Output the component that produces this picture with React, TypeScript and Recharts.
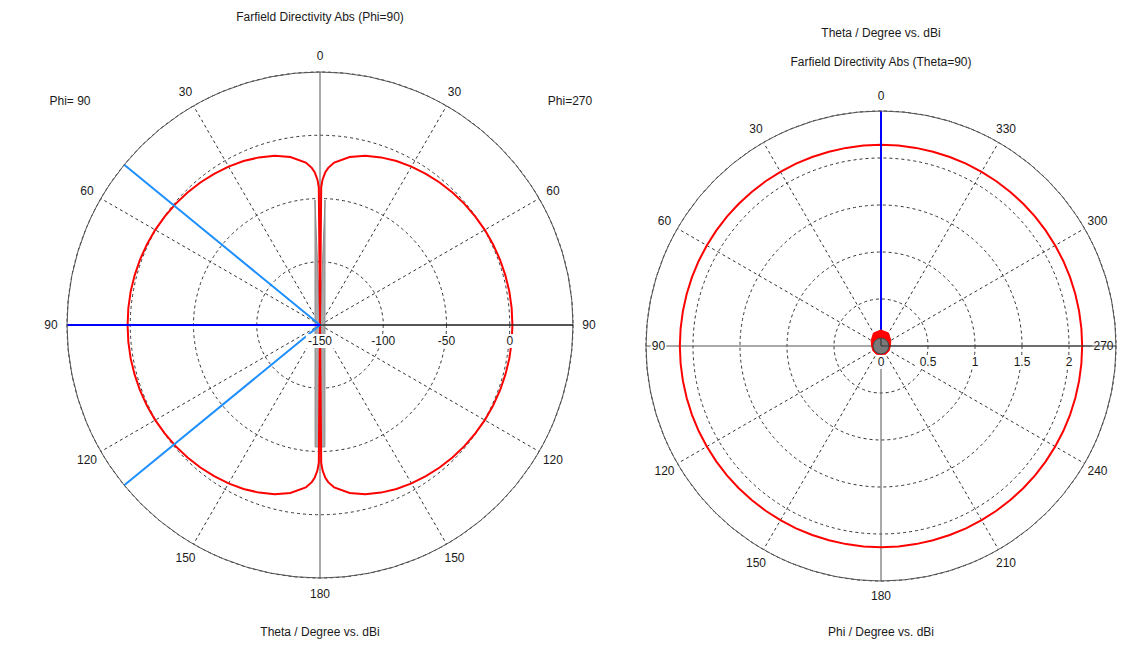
import React from "react";
import { RadarChart, Radar, PolarGrid, PolarAngleAxis, PolarRadiusAxis } from "recharts";

// ---- Farfield Directivity Abs (Phi=90), theta cut, dBi ----
const thetaDeg = [
  0, 0.5, 1, 2, 3, 5, 10, 15, 20, 25, 30, 35, 40, 45, 50, 55, 60, 65, 70, 75, 80, 85, 90,
  95, 100, 105, 110, 115, 120, 125, 130, 135, 140, 145, 150, 155, 160, 165, 170, 175, 177, 178, 179, 179.5, 180,
];
// right half of the plot (Phi=270)
const dbiPhi270 = [
  -150, -41.1, -35.1, -29.1, -25.6, -21.1, -15.1, -11.5, -9.0, -7.0, -5.4, -4.1, -2.9, -1.9, -1.0, -0.3, 0.4, 0.9, 1.4, 1.7, 2.0, 2.1, 2.1,
  2.1, 2.0, 1.7, 1.4, 0.9, 0.4, -0.3, -1.0, -1.9, -2.9, -4.1, -5.4, -7.0, -9.0, -11.5, -15.1, -21.1, -25.6, -29.1, -35.1, -41.1, -150,
];
// left half of the plot (Phi=90)
const dbiPhi90 = [
  -150, -41.1, -35.1, -29.1, -25.6, -21.1, -15.1, -11.5, -9.0, -7.0, -5.4, -4.1, -2.9, -1.9, -1.0, -0.3, 0.4, 0.9, 1.4, 1.7, 2.0, 2.1, 2.1,
  2.1, 2.0, 1.7, 1.4, 0.9, 0.4, -0.3, -1.0, -1.9, -2.9, -4.1, -5.4, -7.0, -9.0, -11.5, -15.1, -21.1, -25.6, -29.1, -35.1, -41.1, -150,
];
const mainLobeTheta = 90;
const beamEdgeTheta = [50.7, 129.3];
const leftDomain = [-150, 50];
// antenna outline drawn in the cut: [theta, dBi] corners
const antennaTheta = [2.3, 177.7];
const antennaDbi = [-51.1, -53.5];

// ---- Farfield Directivity Abs (Theta=90), phi cut, dBi ----
const phiDeg = [
  0, 5, 10, 15, 20, 25, 30, 35, 40, 45, 50, 55, 60, 65, 70, 75, 80, 85, 90, 95, 100, 105, 110, 115, 120, 125, 130, 135, 140, 145, 150, 155, 160, 165, 170, 175, 180,
  185, 190, 195, 200, 205, 210, 215, 220, 225, 230, 235, 240, 245, 250, 255, 260, 265, 270, 275, 280, 285, 290, 295, 300, 305, 310, 315, 320, 325, 330, 335, 340, 345, 350, 355, 360,
];
const dbiTheta90 = [
  2.14, 2.14, 2.14, 2.14, 2.14, 2.14, 2.14, 2.14, 2.14, 2.14, 2.14, 2.14, 2.14, 2.14, 2.14, 2.14, 2.14, 2.14, 2.14, 2.14, 2.14, 2.14, 2.14, 2.14, 2.14, 2.14, 2.14, 2.14, 2.14, 2.14, 2.14, 2.14, 2.14, 2.14, 2.14, 2.14, 2.14,
  2.14, 2.14, 2.14, 2.14, 2.14, 2.14, 2.14, 2.14, 2.14, 2.14, 2.14, 2.14, 2.14, 2.14, 2.14, 2.14, 2.14, 2.14, 2.14, 2.14, 2.14, 2.14, 2.14, 2.14, 2.14, 2.14, 2.14, 2.14, 2.14, 2.14, 2.14, 2.14, 2.14, 2.14, 2.14, 2.14, 2.14,
];
const mainLobePhi = 0;
const rightDomain = [0, 2.5];
const structurePhi = [0, 30, 60, 90, 120, 150, 180, 210, 240, 270, 300, 330, 360];
const feedBlob = [0.17, 0.16, 0.12, 0.1, 0.1, 0.1, 0.09, 0.1, 0.1, 0.1, 0.12, 0.16, 0.17];
const feedDisk = [0.085, 0.085, 0.085, 0.085, 0.085, 0.085, 0.085, 0.085, 0.085, 0.085, 0.085, 0.085, 0.085];

// left chart: position runs clockwise from the top, theta 0..180 on the Phi=270 side, back on the Phi=90 side
const leftRows: any[] = [];
thetaDeg.forEach((t, i) => leftRows.push({ pos: t, pattern: dbiPhi270[i] }));
for (let i = thetaDeg.length - 2; i >= 0; i--) leftRows.push({ pos: 360 - thetaDeg[i], pattern: dbiPhi90[i] });
leftRows.push({ pos: 360 - mainLobeTheta, main: leftDomain[0] });
leftRows.push({ pos: 360 - mainLobeTheta, main: leftDomain[1] });
leftRows.push({ pos: 360 - beamEdgeTheta[0], edge: leftDomain[1] });
leftRows.push({ pos: 360 - beamEdgeTheta[0], edge: leftDomain[0] });
leftRows.push({ pos: 360 - beamEdgeTheta[1], edge: leftDomain[1] });
leftRows.push({ pos: antennaTheta[0], ant: antennaDbi[0] });
leftRows.push({ pos: antennaTheta[1], ant: antennaDbi[1] });
leftRows.push({ pos: 360 - antennaTheta[1], ant: antennaDbi[1] });
leftRows.push({ pos: 360 - antennaTheta[0], ant: antennaDbi[0] });
leftRows.push({ pos: 0 });

const rightRows: any[] = [];
phiDeg.forEach((p, i) => rightRows.push({ phi: p, pattern: dbiTheta90[i] }));
rightRows.push({ phi: mainLobePhi, main: rightDomain[0] });
rightRows.push({ phi: mainLobePhi, main: rightDomain[1] });
rightRows.push({ phi: 0 });
structurePhi.forEach((p, i) => rightRows.push({ phi: p, blob: feedBlob[i] }));
rightRows.push({ phi: 0 });
structurePhi.forEach((p, i) => rightRows.push({ phi: p, disk: feedDisk[i] }));
rightRows.push({ phi: 0 });

const FONT = "'Liberation Sans', Arial, sans-serif";
const TXT = "#1a1a1a";
const dashedAngles = [60, 30, -30, -60, -120, -150, 150, 120];
const axisAngles = [90, 0, -90, 180];

// squeeze: pulls the side labels (90 / 270) in towards the centre, as the plot window does
const angleTick = (label: (v: number) => string, cx = 0, cy = 0, squeeze = 1) => (props: any) => {
  const { payload } = props;
  let { x, y } = props;
  if (payload.value >= 360) return <g />;
  const side = squeeze !== 1 && Math.abs(y - cy) < 1;
  if (side) x = cx + (x - cx) * squeeze;
  const s = label(payload.value);
  const w = s.length * 6.8 + 2;
  return (
    <g>
      {side && <rect x={x - w / 2} y={y - 7} width={w} height={14} fill="#fff" />}
      <text x={x} y={y} textAnchor="middle" dominantBaseline="central" fontSize={12} fill={TXT} fontFamily={FONT}>
        {s}
      </text>
    </g>
  );
};

const radiusTick = (hidden: number) => (props: any) => {
  const { x, y, payload } = props;
  if (payload.value === hidden) return <g />;
  const s = String(payload.value);
  const w = s.length * 6.6 + 2;
  return (
    <g>
      <rect x={x - w / 2} y={y + 9} width={w} height={14} fill="#fff" />
      <text x={x} y={y + 16} textAnchor="middle" dominantBaseline="central" fontSize={12} fill={TXT} fontFamily={FONT}>
        {s}
      </text>
    </g>
  );
};

const label = (text: string, x: number, y: number) => (
  <div
    style={{
      position: "absolute", left: x - 150, top: y - 8, width: 300, textAlign: "center",
      fontSize: 12, lineHeight: "16px", color: TXT, whiteSpace: "pre",
    }}
  >
    {text}
  </div>
);

export default function App() {
  return (
    <div style={{ position: "absolute", left: 0, top: 0, width: 1148, height: 648, background: "#fff", fontFamily: FONT, overflow: "hidden" }}>
      <div style={{ position: "absolute", left: 0, top: 0 }}>
        <RadarChart width={640} height={648} data={leftRows} cx={320} cy={325} outerRadius={253}
          startAngle={90} endAngle={-270} margin={{ top: 0, right: 0, bottom: 0, left: 0 }}>
          <PolarGrid gridType="circle" polarAngles={dashedAngles} stroke="#333" strokeDasharray="3 3" />
          <PolarGrid gridType="circle" polarAngles={axisAngles} polarRadius={[]} stroke="#555" />
          <PolarAngleAxis dataKey="pos" type="number" domain={[0, 360]} tickCount={13} axisLineType="circle"
            stroke="#555" tickLine={false} tickSize={16}
            tick={angleTick((v) => String(v <= 180 ? v : 360 - v))} />
          <PolarRadiusAxis angle={0} type="number" domain={leftDomain} tickCount={5} stroke="#000"
            allowDataOverflow tick={radiusTick(50)} />
          <Radar dataKey="ant" fill="#a9a9a9" fillOpacity={1} stroke="#8c8c8c" strokeWidth={1} dot={false} isAnimationActive={false} />
          <Radar dataKey="pattern" fill="none" stroke="#ff0000" strokeWidth={2} dot={false} isAnimationActive={false} />
          <Radar dataKey="edge" fill="none" stroke="#1e8fff" strokeWidth={2} dot={false} isAnimationActive={false} />
          <Radar dataKey="main" fill="none" stroke="#0000ff" strokeWidth={2} dot={false} isAnimationActive={false} />
        </RadarChart>
      </div>
      <div style={{ position: "absolute", left: 640, top: 0 }}>
        <RadarChart width={508} height={648} data={rightRows} cx={241} cy={346} outerRadius={235}
          startAngle={90} endAngle={450} margin={{ top: 0, right: 0, bottom: 0, left: 0 }}>
          <PolarGrid gridType="circle" polarAngles={dashedAngles} stroke="#333" strokeDasharray="3 3" />
          <PolarGrid gridType="circle" polarAngles={axisAngles} polarRadius={[]} stroke="#555" />
          <PolarAngleAxis dataKey="phi" type="number" domain={[0, 360]} tickCount={13} axisLineType="circle"
            stroke="#555" tickLine={false} tickSize={15}
            tick={angleTick((v) => String(v), 241, 346, 0.89)} />
          <PolarRadiusAxis angle={0} type="number" domain={rightDomain} tickCount={6} allowDecimals
            allowDataOverflow stroke="#333" tick={radiusTick(2.5)} />
          <Radar dataKey="pattern" fill="none" stroke="#ff0000" strokeWidth={2} dot={false} isAnimationActive={false} />
          <Radar dataKey="main" fill="none" stroke="#0000ff" strokeWidth={2} dot={false} isAnimationActive={false} />
          <Radar dataKey="blob" fill="#ff0000" fillOpacity={1} stroke="#ff0000" dot={false} isAnimationActive={false} />
          <Radar dataKey="disk" fill="#7a7a7a" fillOpacity={1} stroke="#444" dot={false} isAnimationActive={false} />
        </RadarChart>
      </div>
      {label("Farfield Directivity Abs (Phi=90)", 320, 17)}
      {label("Phi= 90", 70, 101)}
      {label("Phi=270", 570, 101)}
      {label("Theta / Degree vs. dBi", 320, 632)}
      {label("Theta / Degree vs. dBi", 881, 33)}
      {label("Farfield Directivity Abs (Theta=90)", 881, 62)}
      {label("Phi / Degree vs. dBi", 881, 632)}
    </div>
  );
}
